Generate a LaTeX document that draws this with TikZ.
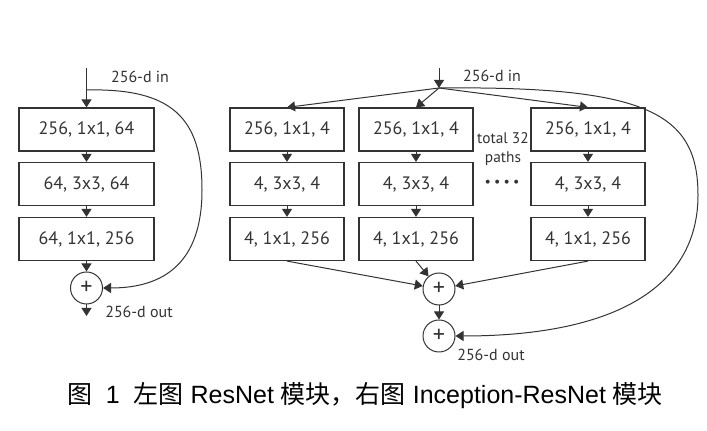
\documentclass[tikz,border=0pt]{standalone}
\usepackage{fontspec}
\setmainfont{PT Sans}
\newfontfamily\capfont{Liberation Sans}
\newfontfamily\cjk{Noto Sans CJK SC}
\usetikzlibrary{arrows.meta}
\definecolor{ink}{HTML}{333333}

\begin{document}
\begin{tikzpicture}[x=0.5pt, y=-0.5pt,
        box/.style={draw=ink, line width=0.6pt, minimum height=21.5pt, inner sep=0pt, text=ink, font=\fontsize{9}{10}\selectfont},
        plus/.style={circle, draw=ink, line width=0.5pt, minimum size=16pt, inner sep=0pt, text=ink, font=\fontsize{12}{12}\selectfont},
        lbl/.style={draw=none, fill=none, inner sep=0pt, text=ink, font=\fontsize{8}{9.5}\selectfont},
        arr/.style={draw=ink, line width=0.5pt, -{Triangle[length=4pt,width=5pt]}}
      ]
  \useasboundingbox (0,0) rectangle (707,431);

        % ResNet block
        \node[box, minimum width=67.5pt] (l1) at (86.5,129.5) {256, 1x1, 64};
        \node[box, minimum width=67.5pt] (l2) at (86.5,184) {64, 3x3, 64};
        \node[box, minimum width=67.5pt] (l3) at (86.5,239) {64, 1x1, 256};
        \node[plus] (lp) at (86.5,288) {+};
        \coordinate (lin) at (86.5,68);
        \coordinate (lsplit) at (86.5,90);
        \coordinate (lout) at (86.5,316);
        \node[lbl] (linlbl) at (140,77) {256-d in};
        \node[lbl] (loutlbl) at (139,312) {256-d out};
        \draw[arr] (lin) -- (l1);
        \draw[arr] (l1) -- (l2);
        \draw[arr] (l2) -- (l3);
        \draw[arr] (l3) -- (lp);
        \draw[arr] (lp) -- (lout);
        \draw[arr] (lsplit) .. controls (172,88) and (202,118) .. (202,190)
                            .. controls (202,262) and (165,288) .. (lp.east);

        % Inception-ResNet block
        \foreach \c/\x in {1/287,2/416,3/588} {
          \node[box, minimum width=57pt] (r\c1) at (\x,129.5) {256, 1x1, 4};
          \node[box, minimum width=57pt] (r\c2) at (\x,184) {4, 3x3, 4};
          \node[box, minimum width=57pt] (r\c3) at (\x,239) {4, 1x1, 256};
          \draw[arr] (r\c1) -- (r\c2);
          \draw[arr] (r\c2) -- (r\c3);
        }
        \node[plus] (ra) at (439,289) {+};
        \node[plus] (rb) at (439,336) {+};
        \coordinate (rin) at (439,68);
        \coordinate (rsplit) at (439,88);
        \node[lbl] (rinlbl) at (492,76) {256-d in};
        \node[lbl] (routlbl) at (491,355) {256-d out};
        \node[lbl, align=center, font=\fontsize{7.7}{9.2}\selectfont] (paths) at (503,149) {total 32\\paths};
        \node[lbl, font=\fontsize{7}{8}\selectfont] (dots) at (502,183) {•\hspace{1.6pt}•\hspace{1.6pt}•\hspace{1.6pt}•};
        \draw[arr] (rin) -- (rsplit);
        \foreach \c in {1,2,3} {
          \draw[arr] (rsplit) -- (r\c1.north);
          \draw[arr] (r\c3.south) -- (ra);
        }
        \draw[arr] (ra) -- (rb);
        \draw[arr] (rsplit) .. controls (645,86) and (698,112) .. (698,195)
                            .. controls (698,290) and (610,336) .. (rb.east);

        % caption
        \node[inner sep=0pt, text=black, font=\capfont\fontsize{12.5}{14}\selectfont] (cap) at (365,396)
          {{\cjk 图}\ \ 1\ \ {\cjk 左图} ResNet {\cjk 模块，右图} Inception-ResNet {\cjk 模块}};

      \end{tikzpicture}
\end{document}
